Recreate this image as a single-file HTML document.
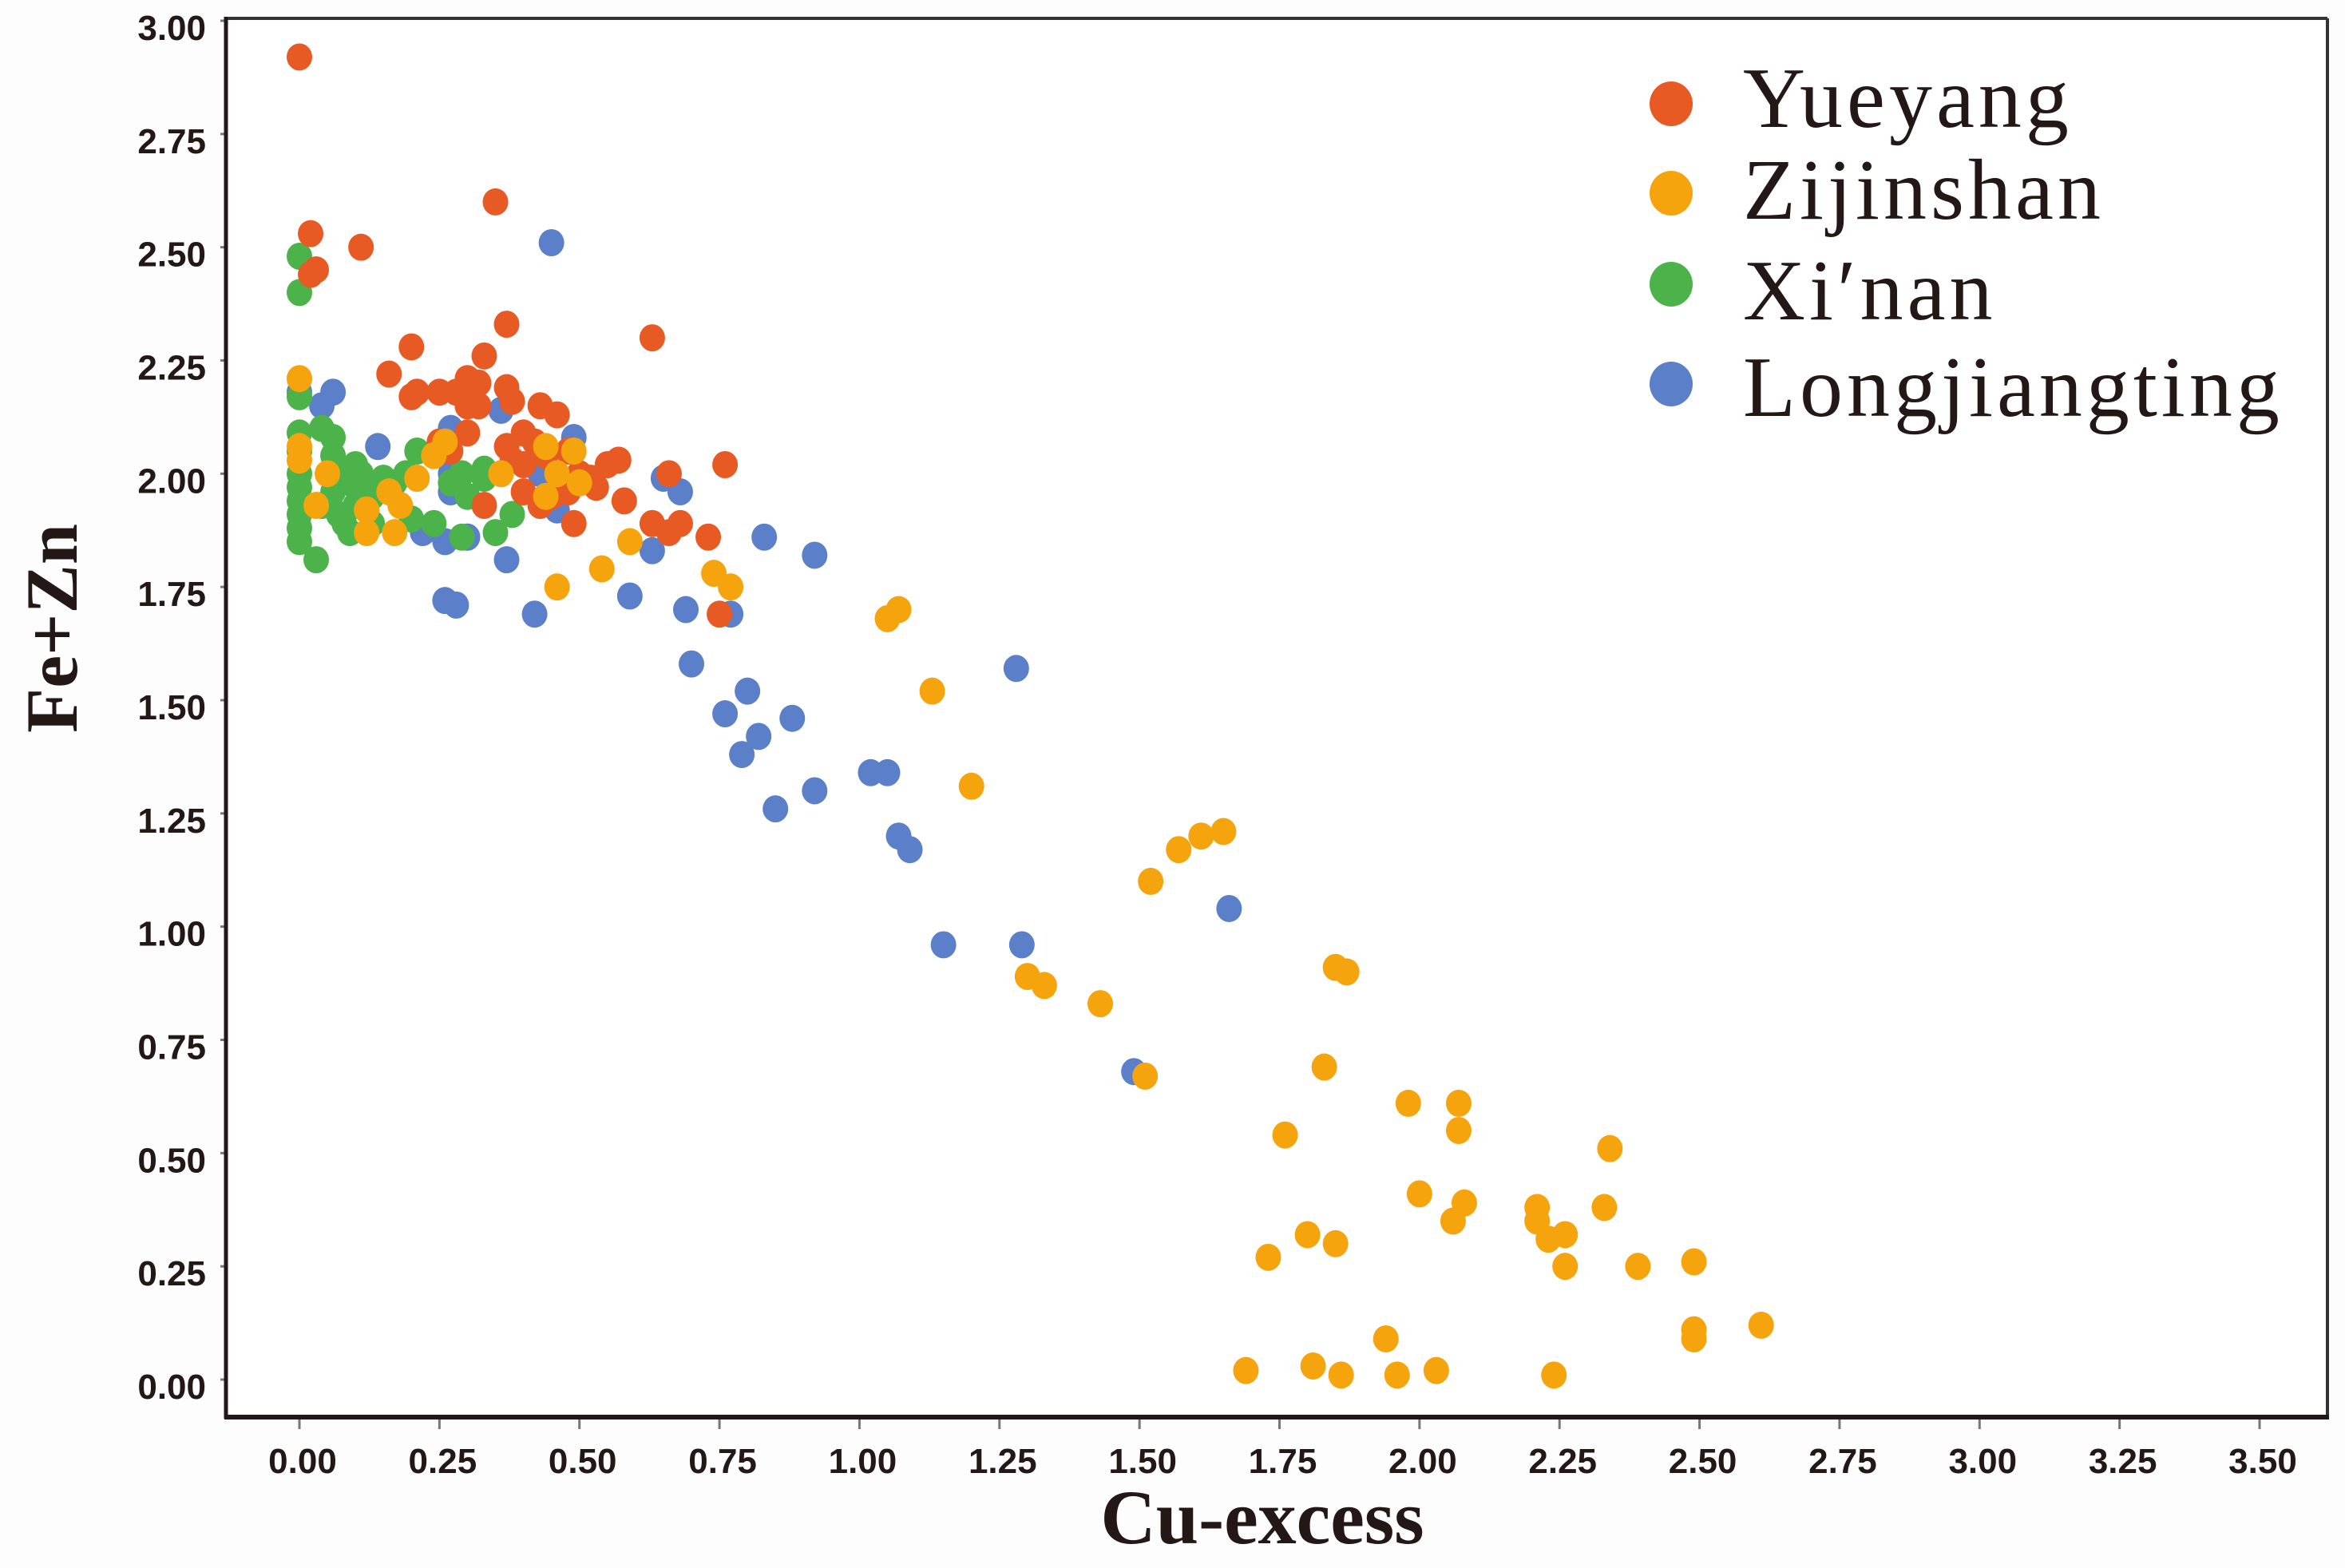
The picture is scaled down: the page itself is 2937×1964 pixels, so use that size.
<!DOCTYPE html>
<html><head><meta charset="utf-8">
<style>
html,body{margin:0;padding:0;background:#fdfdfd;}
svg{display:block;}
.tick{font-family:"Liberation Sans",Arial,sans-serif;font-weight:bold;font-size:44px;fill:#231815;}
.title{font-family:"Liberation Serif","Times New Roman",serif;font-weight:bold;fill:#231815;}
.leg{font-family:"Liberation Serif","Times New Roman",serif;font-size:108px;letter-spacing:5px;fill:#231815;}
</style></head>
<body>
<svg id="chart" width="2937" height="1964" viewBox="0 0 2937 1964" xmlns="http://www.w3.org/2000/svg">
<rect x="0" y="0" width="2937" height="1964" fill="#fdfdfd"/>
<rect x="283" y="23" width="2632" height="1752" fill="#ffffff"/>
<g id="marks"></g>
<g id="axes"></g>
<line x1="283" y1="23" x2="2915" y2="23" stroke="#333" stroke-width="4"/>
<line x1="2915" y1="23" x2="2915" y2="1775" stroke="#333" stroke-width="4"/>
<line x1="283" y1="21" x2="283" y2="1777" stroke="#231815" stroke-width="5"/>
<line x1="281" y1="1775" x2="2917" y2="1775" stroke="#231815" stroke-width="6"/>
<text class="title" x="1581" y="1933" text-anchor="middle" font-size="96">Cu-excess</text>
<text class="title" transform="translate(96,787) rotate(-90)" text-anchor="middle" font-size="92">Fe+Zn</text>
<g>
<ellipse cx="2093" cy="130" rx="27" ry="28" fill="#e85a23"/>
<text class="leg" x="2183" y="159">Yueyang</text>
<ellipse cx="2093" cy="242" rx="27" ry="28" fill="#f5a40e"/>
<text class="leg" x="2183" y="274">Zijinshan</text>
<ellipse cx="2093" cy="356" rx="27" ry="28" fill="#4cb34a"/>
<text class="leg" x="2183" y="400">Xi′nan</text>
<ellipse cx="2093" cy="481" rx="27" ry="28" fill="#5b7fc8"/>
<text class="leg" x="2183" y="521">Longjiangting</text>
</g>
</svg>
<script>
const xTicks = ["0.00","0.25","0.50","0.75","1.00","1.25","1.50","1.75","2.00","2.25","2.50","2.75","3.00","3.25","3.50"];
const yTicks = ["0.00","0.25","0.50","0.75","1.00","1.25","1.50","1.75","2.00","2.25","2.50","2.75","3.00"];
const seriesNames = ["Longjiangting","Xi'nan","Yueyang","Zijinshan"];
const longjiangtingX = [0,0.06,0.04,0.14,0.27,0.30,0.36,0.49,0.27,0.27,0.30,0.26,0.22,0.37,0.26,0.28,0.42,0.45,0.43,0.46,0.59,0.63,0.65,0.68,0.69,0.70,0.77,0.83,0.92,0.76,0.80,0.79,0.82,0.88,0.85,0.92,1.02,1.05,1.07,1.09,1.28,1.66,1.15,1.29,1.49,0.30];
const longjiangtingY = [2.18,2.18,2.15,2.06,2.10,2.15,2.14,2.08,2.00,1.96,1.86,1.85,1.87,1.81,1.72,1.71,1.69,2.51,2.00,1.92,1.73,1.83,1.99,1.96,1.70,1.58,1.69,1.86,1.82,1.47,1.52,1.38,1.42,1.46,1.26,1.30,1.34,1.34,1.20,1.17,1.57,1.04,0.96,0.96,0.68,1.86];
const xinanX = [0,0,0,0,0,0,0,0,0,0,0,0.03,0.04,0.06,0.06,0.07,0.06,0.04,0.07,0.08,0.09,0.10,0.11,0.12,0.13,0.10,0.09,0.13,0.15,0.17,0.19,0.21,0.20,0.24,0.27,0.29,0.30,0.29,0.33,0.35,0.38,0.33];
const xinanY = [2.48,2.40,2.17,2.09,2.05,2.00,1.97,1.94,1.91,1.88,1.85,1.81,2.10,2.08,2.04,2.00,1.96,1.93,1.91,1.89,1.98,2.02,2.00,1.97,1.95,1.93,1.87,1.89,1.99,1.98,2.00,2.05,1.90,1.89,1.98,2.00,1.95,1.86,1.99,1.87,1.91,2.01];
const yueyangX = [0,0.02,0.03,0.02,0.11,0.35,0.63,0.37,0.33,0.20,0.16,0.20,0.21,0.25,0.28,0.30,0.31,0.32,0.30,0.32,0.37,0.38,0.43,0.46,0.30,0.27,0.25,0.37,0.38,0.40,0.42,0.40,0.44,0.48,0.50,0.52,0.55,0.57,0.40,0.43,0.45,0.48,0.50,0.53,0.33,0.49,0.58,0.63,0.66,0.68,0.66,0.73,0.76,0.75];
const yueyangY = [2.92,2.53,2.45,2.44,2.50,2.60,2.30,2.33,2.26,2.28,2.22,2.17,2.18,2.18,2.18,2.21,2.19,2.20,2.15,2.15,2.19,2.16,2.15,2.13,2.09,2.05,2.07,2.06,2.03,2.09,2.07,2.02,2.04,2.05,2.00,1.99,2.02,2.03,1.96,1.93,1.95,1.96,1.98,1.97,1.93,1.89,1.94,1.89,1.87,1.89,2.00,1.86,2.02,1.69];
const zijinshanX = [0,0,0,0.05,0.03,0.12,0.12,0.17,0.16,0.18,0.21,0.24,0.26,0.36,0.44,0.49,0.46,0.44,0.50,0.46,0.54,0.59,0.74,0.77,1.05,1.07,1.13,1.20,1.52,1.57,1.61,1.65,1.30,1.33,1.43,1.51,1.85,1.87,1.83,1.76,1.98,2.07,2.07,2.34,2.00,2.08,2.06,2.21,2.21,2.23,2.26,2.33,1.73,1.80,1.85,2.26,2.39,2.49,1.94,2.49,2.49,2.61,1.69,1.81,1.86,1.96,2.03,2.24];
const zijinshanY = [2.21,2.06,2.03,2.00,1.93,1.92,1.87,1.87,1.96,1.93,1.99,2.04,2.07,2.00,2.06,2.05,2.00,1.95,1.98,1.75,1.79,1.85,1.78,1.75,1.68,1.70,1.52,1.31,1.10,1.17,1.20,1.21,0.89,0.87,0.83,0.67,0.91,0.90,0.69,0.54,0.61,0.61,0.55,0.51,0.41,0.39,0.35,0.38,0.35,0.31,0.32,0.38,0.27,0.32,0.30,0.25,0.25,0.26,0.09,0.11,0.09,0.12,0.02,0.03,0.01,0.01,0.02,0.01];

const NS = "http://www.w3.org/2000/svg";
const X0 = 375, X1 = 2830, XMAX = 3.5;
const Y0 = 1728, Y1 = 26, YMAX = 3.0;
function xs(v){ return X0 + (X1 - X0) * v / XMAX; }
function ys(v){ return Y0 - (Y0 - Y1) * v / YMAX; }

const axes = document.getElementById('axes');
xTicks.forEach(function(t){
  const v = parseFloat(t), x = xs(v);
  const ln = document.createElementNS(NS,'line');
  ln.setAttribute('x1',x); ln.setAttribute('x2',x);
  ln.setAttribute('y1',1778); ln.setAttribute('y2',1790);
  ln.setAttribute('stroke','#777'); ln.setAttribute('stroke-width','3');
  
  
  axes.appendChild(ln);
  const tx = document.createElementNS(NS,'text');
  tx.setAttribute('x',x + 4); tx.setAttribute('y',1845);
  tx.setAttribute('text-anchor','middle'); tx.setAttribute('class','tick');
  tx.textContent = t;
  
  
  axes.appendChild(tx);
});
yTicks.forEach(function(t){
  const v = parseFloat(t), y = ys(v);
  const ln = document.createElementNS(NS,'line');
  ln.setAttribute('x1',276); ln.setAttribute('x2',282);
  ln.setAttribute('y1',y); ln.setAttribute('y2',y);
  ln.setAttribute('stroke','#777'); ln.setAttribute('stroke-width','3');
  
  
  axes.appendChild(ln);
  const tx = document.createElementNS(NS,'text');
  tx.setAttribute('x',258); tx.setAttribute('y',y + 24);
  tx.setAttribute('text-anchor','end'); tx.setAttribute('class','tick');
  tx.textContent = t;
  
  
  axes.appendChild(tx);
});

const marks = document.getElementById('marks');
function drawSeries(xsArr, ysArr, color, name){
  const g = document.createElementNS(NS,'g');
  
  
  for (let i = 0; i < xsArr.length; i++){
    const c = document.createElementNS(NS,'ellipse');
    c.setAttribute('cx', xs(xsArr[i])); c.setAttribute('cy', ys(ysArr[i]));
    c.setAttribute('rx', 16); c.setAttribute('ry', 17);
    c.setAttribute('fill', color);
    
    
    g.appendChild(c);
  }
  marks.appendChild(g);
}
drawSeries(longjiangtingX, longjiangtingY, '#5b7fc8', 'longjiangting');
drawSeries(xinanX, xinanY, '#4cb34a', 'xinan');
drawSeries(yueyangX, yueyangY, '#e85a23', 'yueyang');
drawSeries(zijinshanX, zijinshanY, '#f5a40e', 'zijinshan');
</script>
</body></html>
